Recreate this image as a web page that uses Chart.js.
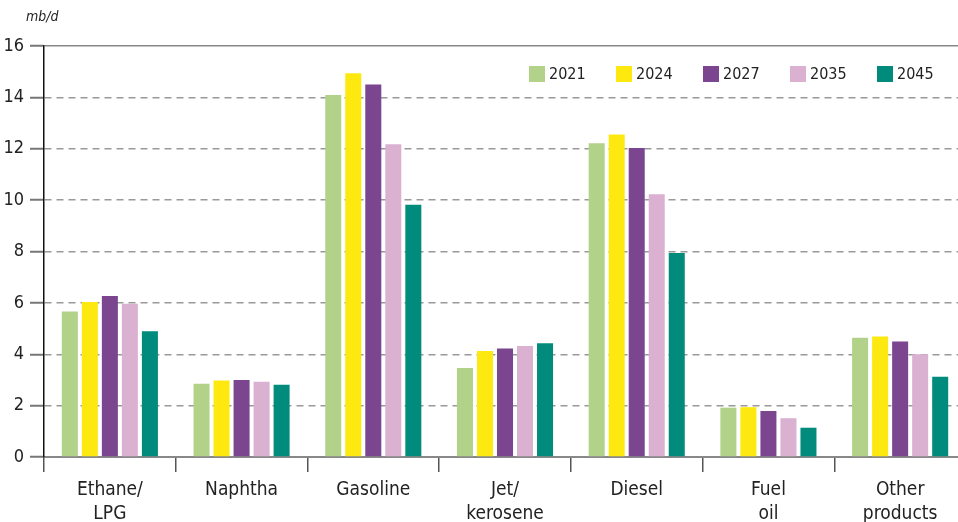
<!DOCTYPE html>
<html>
<head>
<meta charset="utf-8">
<script src="https://cdn.jsdelivr.net/npm/chart.js@4/dist/chart.umd.min.js"></script>
<style>
  html, body { margin: 0; padding: 0; overflow: hidden; background: #fff; }
  canvas { display: block; }
</style>
</head>
<body>
<canvas id="productChart" width="966" height="522"></canvas>
<script>
const FONT = "'Liberation Sans Narrow', 'DejaVu Sans Condensed', sans-serif";

const categories = [
  ['Ethane/', 'LPG'], 'Naphtha', 'Gasoline', ['Jet/', 'kerosene'],
  'Diesel', ['Fuel', 'oil'], ['Other', 'products']
];
const years = ['2021', '2024', '2027', '2035', '2045'];
const colors = ['#b2d189', '#fde910', '#7b4590', '#dbb1d2', '#008b7d'];

const v2021 = [5.66, 2.85, 14.09, 3.46, 12.21, 1.92, 4.64];
const v2024 = [6.03, 2.98, 14.94, 4.13, 12.55, 1.94, 4.69];
const v2027 = [6.27, 3.00, 14.50, 4.22, 12.03, 1.79, 4.50];
const v2035 = [5.97, 2.93, 12.18, 4.32, 10.23, 1.51, 4.00];
const v2045 = [4.90, 2.81, 9.82, 4.43, 7.94, 1.14, 3.12];
const series = [v2021, v2024, v2027, v2035, v2045];

const yTicks = [0, 2, 4, 6, 8, 10, 12, 14, 16];

// unit label + legend drawn on top of the plot
const extras = {
  id: 'extras',
  afterDraw(chart) {
    const ctx = chart.ctx;
    ctx.save();
    ctx.fillStyle = '#222';
    ctx.font = 'italic 14px ' + FONT;
    ctx.textBaseline = 'middle';
    ctx.textAlign = 'left';
    ctx.fillText('mb/d', 26, 17);

    ctx.font = '16px ' + FONT;
    let x = 529;
    chart.data.datasets.forEach(ds => {
      ctx.fillStyle = ds.backgroundColor;
      ctx.fillRect(x, 66, 16, 16);
      ctx.fillStyle = '#222';
      ctx.fillText(ds.label, x + 20, 75);
      x += 87;
    });
    ctx.restore();
  }
};

new Chart(document.getElementById('productChart'), {
  type: 'bar',
  data: {
    labels: categories,
    datasets: years.map((y, i) => ({
      label: y,
      data: series[i],
      backgroundColor: colors[i],
      borderWidth: 0,
      categoryPercentage: 0.76,
      barPercentage: 0.8
    }))
  },
  options: {
    responsive: false,
    animation: false,
    layout: { padding: { top: 46, left: 0, right: 0, bottom: 0 } },
    plugins: {
      legend: { display: false },
      tooltip: { enabled: false }
    },
    scales: {
      x: {
        afterFit(scale) { scale.height = 65; },
        grid: {
          offset: true,
          drawOnChartArea: false,
          drawTicks: true,
          tickLength: 15,
          color: '#555',
          lineWidth: 1.5
        },
        border: { display: true, color: '#888', width: 2 },
        ticks: {
          color: '#222',
          padding: 6,
          maxRotation: 0,
          autoSkip: false,
          font: { family: FONT, size: 19, lineHeight: 1.26 }
        }
      },
      y: {
        min: 0,
        max: 16,
        afterFit(scale) { scale.width = 44; },
        afterBuildTicks(scale) { scale.ticks = yTicks.map(v => ({ value: v })); },
        grid: {
          color: ctx => (ctx.tick && ctx.tick.value === 16) ? '#888' : '#999',
          lineWidth: 1.5,
          tickLength: 14,
          tickColor: '#777',
          tickWidth: 2,
          tickBorderDash: []
        },
        border: {
          display: true,
          color: '#111',
          width: 1.5,
          dash: ctx => (ctx.tick && (ctx.tick.value === 16 || ctx.tick.value === 0)) ? [] : [7, 5]
        },
        ticks: {
          color: '#222',
          padding: 6,
          font: { family: FONT, size: 18 }
        }
      }
    }
  },
  plugins: [extras]
});
</script>
</body>
</html>
